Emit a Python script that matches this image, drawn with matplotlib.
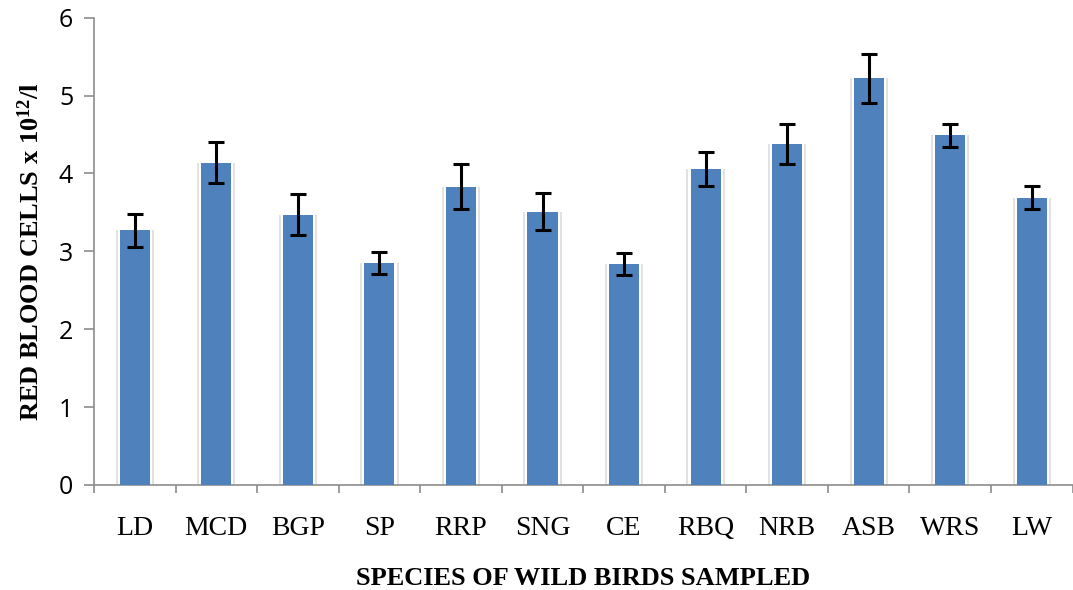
import numpy as np
import matplotlib
matplotlib.use("Agg")
import matplotlib.pyplot as plt

# data
species = ["LD", "MCD", "BGP", "SP", "RRP", "SNG", "CE", "RBQ", "NRB", "ASB", "WRS", "LW"]
rbc = [3.27, 4.14, 3.47, 2.85, 3.83, 3.51, 2.84, 4.06, 4.38, 5.22, 4.49, 3.69]
err = [0.21, 0.26, 0.26, 0.14, 0.29, 0.24, 0.14, 0.22, 0.26, 0.32, 0.15, 0.15]

plt.rcParams['mathtext.fontset'] = 'custom'
plt.rcParams['mathtext.rm'] = 'Liberation Serif'
plt.rcParams['mathtext.bf'] = 'Liberation Serif:bold'

fig = plt.figure(figsize=(10.73, 5.90), dpi=100)
ax = fig.add_axes([0.0876, 0.178, 0.912, 0.792])

x = np.arange(len(species))
w = 0.37

# soft shadow behind the bars
ax.bar(x, rbc, width=w + 0.10, color="#e2e2e2", zorder=1)
ax.bar(x, rbc, width=w + 0.05, color="#ffffff", zorder=2)
ax.bar(x, rbc, width=w, color="#4f81bd", zorder=3)
ax.errorbar(x, rbc, yerr=err, fmt="none", ecolor="black", elinewidth=2.2,
            capsize=6, capthick=2.2, zorder=4)

ax.set_xlim(-0.5, len(species) - 0.5)
ax.set_ylim(0, 6)
ax.set_yticks(range(0, 7))

# category ticks sit between the bars
ax.set_xticks(x)
ax.set_xticklabels(species, family="Liberation Serif", fontsize=20)
ax.set_xticks(np.arange(-0.5, len(species), 1.0), minor=True)
ax.tick_params(axis="x", which="major", length=0, pad=22)
ax.tick_params(axis="x", which="minor", length=6, width=1.2, color="#8c8c8c")
ax.tick_params(axis="y", length=7, width=1.2, color="#8c8c8c", pad=8, labelsize=18)
for lab in ax.get_yticklabels():
    lab.set_family("Open Sans")

for side in ["top", "right"]:
    ax.spines[side].set_visible(False)
for side in ["left", "bottom"]:
    ax.spines[side].set_color("#8c8c8c")
    ax.spines[side].set_linewidth(1.2)

ax.set_xlabel("SPECIES OF WILD BIRDS SAMPLED", family="Liberation Serif",
              fontweight="bold", fontsize=19, labelpad=19)
ax.set_ylabel(r"RED BLOOD CELLS x $\mathbf{10^{12}}$/l", family="Liberation Serif",
              fontweight="bold", fontsize=19, labelpad=11)

plt.savefig("out.png", dpi=100)
